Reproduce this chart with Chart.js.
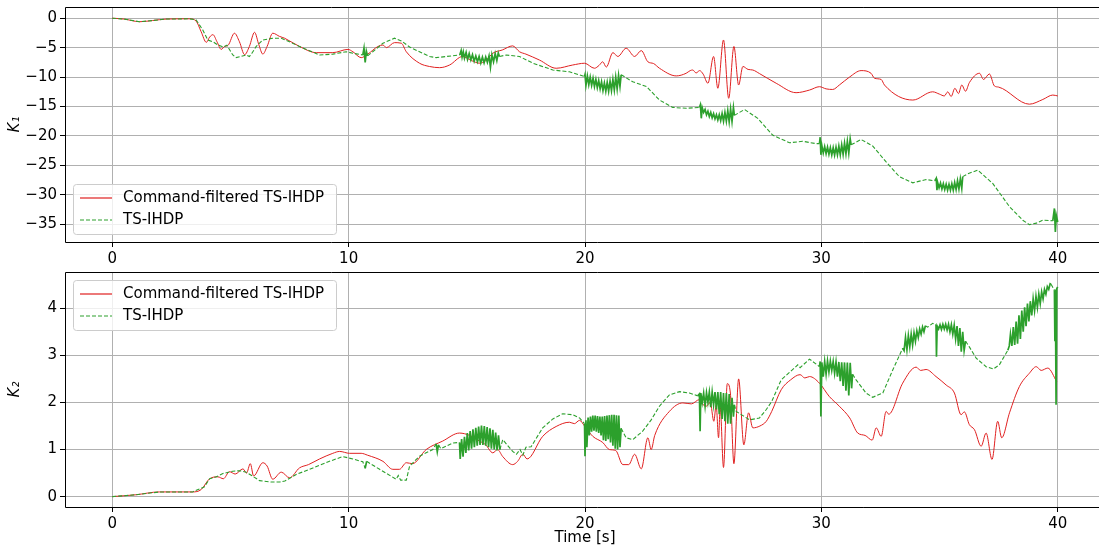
<!DOCTYPE html>
<html>
<head>
<meta charset="utf-8">
<title>K1 / K2</title>
<script src="https://cdn.jsdelivr.net/npm/chart.js@4.4.1/dist/chart.umd.min.js"></script>
<style>
  html,body{margin:0;padding:0;background:#fff;overflow:hidden;}
  #wrap{position:relative;width:1099px;height:550px;overflow:hidden;background:#fff;}
  canvas{position:absolute;left:0;}
</style>
</head>
<body>
<div id="wrap">
  <canvas id="k1" width="1130" height="265" style="top:0;width:1130px;height:265px"></canvas>
  <canvas id="k2" width="1130" height="285" style="top:265px;width:1130px;height:285px"></canvas>
</div>
<script>
// tick labels
const timeTicks = [0, 10, 20, 30, 40];
const k1Ticks = [0, -5, -10, -15, -20, -25, -30, -35];
const k2Ticks = [0, 1, 2, 3, 4];
const seriesNames = ['Command-filtered TS-IHDP', 'TS-IHDP'];

// K1, command-filtered (t, value)
const k1Cmd = [[0,0],[0.5,-0.15],[1.16,-0.6],[1.7,-0.4],[2.28,-0.15],[3.27,-0.1],[3.55,-0.5],[3.76,-2.3],[3.98,-4.1],[4.12,-3.2],[4.26,-2.8],[4.43,-4.0],[4.61,-5.3],[4.75,-4.8],[4.9,-4.6],[5.17,-2.55],[5.38,-4.0],[5.6,-6.2],[5.8,-4.8],[6.02,-2.4],[6.2,-4.5],[6.37,-6.1],[6.55,-4.8],[6.79,-2.55],[7.08,-3.1],[7.29,-3.4],[7.92,-4.8],[8.63,-5.85],[9.33,-5.85],[9.97,-5.3],[10.18,-5.7],[10.53,-6.7],[10.81,-6.1],[11.24,-4.8],[11.45,-4.55],[11.6,-5.0],[11.94,-4.15],[12.23,-4.25],[12.44,-5.7],[13.0,-7.65],[13.42,-8.2],[13.85,-8.4],[14.27,-7.95],[14.82,-6.5],[15.2,-7.2],[15.54,-7.65],[15.8,-7.2],[16.1,-5.95],[16.5,-5.4],[16.94,-4.7],[17.23,-5.7],[17.5,-6.1],[18.07,-7.1],[18.78,-8.5],[19.48,-7.95],[19.98,-7.65],[20.4,-8.5],[20.6,-8.0],[20.75,-7.4],[20.9,-8.3],[21.18,-5.85],[21.39,-6.5],[21.74,-5.1],[22.1,-6.5],[22.38,-5.5],[22.66,-7.4],[22.9,-7.7],[23.15,-8.5],[23.86,-9.8],[24.28,-9.35],[24.45,-8.9],[24.56,-8.8],[24.7,-9.3],[24.85,-8.9],[25.0,-9.5],[25.2,-11.05],[25.44,-6.5],[25.62,-11.9],[25.86,-3.7],[26.08,-13.6],[26.3,-4.8],[26.5,-11.35],[26.68,-8.2],[26.9,-8.7],[27.1,-8.8],[27.38,-9.4],[28.09,-11.05],[28.93,-12.65],[29.5,-12.2],[29.92,-11.63],[30.2,-12.0],[30.48,-12.1],[30.76,-11.35],[31.19,-10.0],[31.68,-8.9],[32.1,-9.35],[32.25,-10.2],[32.53,-10.4],[32.67,-11.35],[33.87,-13.9],[34.71,-12.5],[35.0,-12.9],[35.2,-13.2],[35.35,-12.5],[35.49,-13.3],[35.65,-11.9],[35.8,-12.8],[35.94,-11.35],[36.1,-12.4],[36.26,-10.95],[36.69,-9.35],[36.86,-10.4],[37.11,-9.47],[37.32,-11.5],[37.5,-11.7],[38.8,-14.6],[39.37,-13.8],[39.79,-13.05],[40.0,-13.2]];

// K1, plain TS-IHDP (the chattering stretches are read as top/bottom swings)
const k1Base = [[0,0],[0.5,-0.15],[1.16,-0.6],[1.7,-0.4],[2.28,-0.15],[3.27,-0.1],[3.55,-0.3],[3.83,-2.0],[4.04,-3.7],[4.26,-4.0],[4.47,-4.55],[4.7,-4.9],[4.85,-4.6],[5.1,-6.25],[5.24,-6.7],[5.67,-6.25],[5.8,-6.5],[5.9,-6.0],[6.09,-4.8],[6.37,-3.7],[6.79,-3.4],[7.15,-3.4],[7.5,-4.0],[7.92,-4.8],[8.77,-6.25],[9.33,-6.1],[9.9,-5.7],[10.18,-5.95],[10.6,-6.25],[10.65,-5.1],[10.7,-7.5],[10.75,-5.6],[10.8,-6.4],[11.02,-5.7],[11.45,-4.25],[11.94,-3.4],[12.23,-3.85],[12.58,-4.9],[13.42,-6.5],[13.7,-6.7],[14.7,-6.25],
  [14.76,-5.5],[14.8,-6.6],[14.85,-5.7],[14.9,-6.8],[14.97,-5.8],[15.03,-7.0],[15.1,-6.0],[15.17,-7.1],[15.24,-6.2],[15.31,-7.3],[15.38,-6.4],[15.45,-7.4],[15.52,-6.5],[15.59,-7.6],[15.66,-6.6],[15.73,-7.6],[15.8,-6.6],[15.87,-7.5],[15.94,-6.4],[16.0,-8.3],[16.06,-6.2],[16.13,-7.4],[16.2,-6.0],[16.27,-7.2],[16.33,-5.9],[16.38,-6.5],
  [16.67,-6.25],[17.23,-6.5],[17.8,-7.65],[18.64,-8.8],[19.34,-9.1],[19.98,-9.9],
  [20.0,-9.6],[20.04,-11.4],[20.1,-9.8],[20.16,-11.3],[20.22,-10.0],[20.28,-11.4],[20.34,-10.2],[20.4,-11.6],[20.46,-10.4],[20.52,-11.8],[20.58,-10.6],[20.64,-12.0],[20.7,-10.8],[20.76,-12.3],[20.82,-11.0],[20.88,-12.4],[20.94,-10.9],[21.0,-12.4],[21.06,-10.7],[21.12,-12.3],[21.18,-10.4],[21.24,-12.2],[21.3,-10.0],[21.36,-12.0],[21.42,-9.7],[21.48,-11.6],[21.53,-9.6],
  [22.02,-10.8],[22.6,-11.6],[23.15,-13.9],[23.71,-15.15],[24.28,-15.3],[24.84,-15.15],
  [24.88,-14.7],[24.92,-17.0],[24.96,-15.2],[25.02,-16.0],[25.08,-15.5],[25.14,-16.4],[25.2,-15.8],[25.26,-16.7],[25.32,-16.0],[25.38,-16.9],[25.44,-16.2],[25.5,-17.1],[25.56,-16.4],[25.62,-17.3],[25.68,-16.4],[25.74,-17.4],[25.8,-16.2],[25.86,-17.5],[25.92,-16.0],[25.98,-17.5],[26.04,-15.7],[26.1,-17.6],[26.16,-15.4],[26.22,-17.5],[26.28,-15.15],[26.32,-16.5],
  [26.75,-15.5],[27.31,-17.0],[27.94,-19.85],[28.65,-21.15],[29.21,-20.9],[29.77,-21.3],
  [29.92,-21.3],[29.95,-20.2],[29.98,-23.2],[30.02,-21.6],[30.08,-22.9],[30.14,-21.8],[30.2,-23.0],[30.26,-21.9],[30.32,-23.1],[30.38,-22.0],[30.44,-23.2],[30.5,-22.0],[30.56,-23.25],[30.62,-21.9],[30.68,-23.2],[30.74,-21.7],[30.8,-23.2],[30.86,-21.5],[30.92,-23.1],[30.98,-21.2],[31.04,-23.0],[31.1,-20.9],[31.16,-22.9],[31.22,-20.5],[31.26,-21.5],
  [31.68,-20.6],[32.17,-21.7],[32.74,-24.4],[33.3,-26.9],[33.87,-27.95],[34.43,-27.4],[34.8,-27.6],
  [34.86,-27.2],[34.89,-29.2],[34.92,-27.9],[34.98,-28.8],[35.04,-28.0],[35.1,-29.0],[35.16,-28.1],[35.22,-29.1],[35.28,-28.2],[35.34,-29.2],[35.4,-28.2],[35.46,-29.2],[35.52,-28.1],[35.58,-29.2],[35.64,-27.9],[35.7,-29.1],[35.76,-27.6],[35.82,-29.0],[35.88,-27.3],[35.94,-28.9],[35.98,-26.9],
  [36.2,-26.4],[36.62,-25.8],[37.25,-28.06],[37.96,-32.0],[38.52,-34.3],[38.8,-35.05],[39.1,-34.8],[39.37,-34.3],[39.79,-34.4],[39.86,-32.3],[39.9,-36.3],[39.94,-33.5],[40.0,-34.6]];

// K2, command-filtered
const k2Cmd = [[0,0],[1,0.04],[2.0,0.1],[2.85,0.1],[3.4,0.1],[3.76,0.15],[4.12,0.38],[4.47,0.42],[4.7,0.38],[4.96,0.53],[5.2,0.48],[5.53,0.59],[5.68,0.5],[5.84,0.7],[5.98,0.44],[6.37,0.72],[6.55,0.65],[6.79,0.37],[7.15,0.52],[7.5,0.4],[7.92,0.61],[8.3,0.68],[8.77,0.8],[9.33,0.92],[9.62,0.96],[10.04,0.92],[10.53,0.92],[10.8,0.88],[11.45,0.75],[11.87,0.58],[12.15,0.58],[12.44,0.72],[12.7,0.7],[13.28,1.0],[13.98,1.18],[14.69,1.35],[15.12,1.3],[15.54,1.18],[15.8,1.1],[16.1,0.93],[16.3,1.0],[16.52,0.85],[16.94,0.68],[17.15,0.75],[17.37,0.9],[17.55,0.8],[18.21,1.28],[18.78,1.49],[19.34,1.58],[19.55,1.55],[19.77,1.62],[19.98,1.5],[20.33,1.28],[20.75,1.15],[21.03,1.0],[21.3,0.98],[21.6,0.68],[21.85,0.68],[22.1,0.9],[22.38,0.59],[22.66,1.25],[22.8,1.0],[22.95,1.3],[23.57,1.81],[24.14,1.99],[24.5,1.97],[24.84,2.06],[25.0,1.95],[25.13,1.92],[25.3,2.0],[25.45,1.6],[25.55,1.95],[25.65,1.25],[25.72,1.9],[25.86,0.62],[26.02,2.4],[26.15,2.2],[26.3,0.7],[26.5,2.5],[26.72,1.1],[26.92,1.78],[27.1,1.46],[27.4,1.5],[27.67,1.6],[27.9,1.81],[28.3,2.27],[28.7,2.48],[29.1,2.59],[29.3,2.52],[29.5,2.55],[29.92,2.41],[30.33,2.13],[30.76,1.92],[31.2,1.67],[31.54,1.35],[31.85,1.3],[32.15,1.2],[32.32,1.46],[32.53,1.28],[32.74,1.81],[32.85,1.75],[33.44,2.41],[34.01,2.75],[34.2,2.68],[34.43,2.7],[34.85,2.55],[35.28,2.37],[35.63,2.2],[35.91,1.74],[36.05,1.8],[36.26,1.53],[36.48,1.42],[36.76,1.07],[36.97,1.35],[37.22,0.79],[37.46,1.6],[37.63,1.25],[37.96,1.78],[38.38,2.34],[38.8,2.62],[39.09,2.76],[39.3,2.68],[39.58,2.73],[39.96,2.44]];

// K2, plain TS-IHDP
const k2Base = [[0,0],[1,0.04],[2.0,0.1],[2.85,0.1],[3.4,0.1],[3.9,0.21],[4.12,0.38],[4.4,0.42],[4.68,0.49],[5.1,0.54],[5.4,0.55],[5.67,0.52],[6.23,0.34],[6.7,0.31],[7.08,0.31],[7.3,0.33],[7.78,0.47],[8.49,0.61],[9.19,0.75],[9.75,0.85],[10.18,0.8],[10.6,0.74],[10.7,0.6],[10.76,0.75],[11.31,0.58],[12.01,0.37],[12.1,0.45],[12.2,0.35],[12.44,0.35],[12.58,0.65],[13.0,0.86],[13.56,1.0],[13.7,1.12],[13.75,0.95],[13.8,1.1],[13.9,1.02],[14.41,1.14],[14.69,1.15],
  [14.72,0.8],[14.78,1.22],[14.84,0.85],[14.9,1.27],[14.96,0.93],[15.02,1.35],[15.08,0.98],[15.14,1.39],[15.2,1.02],[15.26,1.43],[15.32,1.05],[15.38,1.46],[15.44,1.08],[15.5,1.49],[15.56,1.1],[15.62,1.51],[15.68,1.1],[15.74,1.5],[15.8,1.08],[15.86,1.48],[15.92,1.05],[15.98,1.45],[16.04,1.02],[16.1,1.42],[16.16,1.0],[16.22,1.36],[16.28,0.98],[16.34,1.3],[16.4,1.0],
  [16.52,1.21],[16.94,0.96],[17.1,0.9],[17.25,1.0],[17.37,0.88],[17.5,1.05],[17.72,1.06],[18.21,1.46],[18.64,1.65],[19.06,1.76],[19.48,1.74],[19.77,1.67],[19.98,1.55],
  [20.0,0.86],[20.04,1.62],[20.08,1.05],[20.13,1.68],[20.18,1.3],[20.23,1.7],[20.28,1.38],[20.33,1.72],[20.38,1.4],[20.43,1.72],[20.48,1.38],[20.53,1.71],[20.58,1.35],[20.63,1.7],[20.68,1.3],[20.73,1.7],[20.78,1.2],[20.83,1.71],[20.88,1.18],[20.93,1.72],[20.98,1.22],[21.03,1.73],[21.08,1.15],[21.13,1.74],[21.18,1.08],[21.23,1.74],[21.28,1.02],[21.33,1.73],[21.38,1.0],[21.43,1.72],[21.48,1.05],[21.53,1.45],
  [21.74,1.25],[22.02,1.21],[22.44,1.39],[22.8,1.63],[23.15,1.92],[23.57,2.16],[24.0,2.23],[24.42,2.2],[24.77,2.14],
  [24.84,2.18],[24.87,1.39],[24.9,2.2],[24.96,2.0],[25.02,2.2],[25.08,1.92],[25.14,2.21],[25.2,2.0],[25.26,2.22],[25.32,1.9],[25.38,2.22],[25.44,1.95],[25.5,2.22],[25.56,1.85],[25.62,2.22],[25.68,1.75],[25.74,2.22],[25.8,1.65],[25.86,2.2],[25.92,1.6],[25.98,2.2],[26.04,1.55],[26.1,2.18],[26.16,1.55],[26.22,2.1],[26.28,1.7],[26.32,1.95],
  [26.4,1.81],[26.68,1.72],[26.96,1.63],[27.38,1.67],[27.67,1.85],[27.9,2.02],[28.3,2.48],[28.7,2.66],[28.9,2.75],[29.0,2.8],[29.1,2.74],[29.5,2.92],[29.92,2.76],
  [29.95,2.87],[29.98,1.7],[30.02,2.85],[30.08,2.55],[30.14,2.87],[30.2,2.6],[30.26,2.88],[30.32,2.65],[30.38,2.88],[30.44,2.68],[30.5,2.87],[30.56,2.62],[30.62,2.86],[30.68,2.55],[30.74,2.86],[30.8,2.45],[30.86,2.85],[30.92,2.35],[30.98,2.85],[31.04,2.25],[31.1,2.85],[31.16,2.15],[31.22,2.84],[31.28,2.3],[31.32,2.6],
  [31.47,2.48],[31.89,2.2],[32.17,2.11],[32.6,2.2],[33.02,2.69],[33.44,3.15],
  [33.5,3.1],[33.56,3.38],[33.62,3.12],[33.68,3.42],[33.74,3.18],[33.8,3.45],[33.86,3.22],[33.92,3.48],[33.98,3.3],[34.04,3.52],[34.1,3.38],[34.16,3.56],[34.22,3.45],[34.28,3.6],[34.34,3.5],[34.4,3.63],[34.5,3.6],
  [34.71,3.68],[34.85,3.65],[34.87,2.97],[34.9,3.62],
  [34.96,3.56],[35.02,3.65],[35.08,3.55],[35.14,3.66],[35.2,3.56],[35.26,3.66],[35.32,3.54],[35.38,3.66],[35.44,3.5],[35.5,3.65],[35.56,3.45],[35.62,3.64],[35.68,3.35],[35.74,3.62],[35.8,3.2],[35.86,3.58],[35.92,3.08],[35.98,3.5],[36.04,3.1],[36.1,3.3],
  [36.26,3.18],[36.55,2.94],[36.97,2.76],[37.28,2.71],[37.53,2.8],[37.89,3.11],
  [37.95,3.2],[38.0,3.45],[38.06,3.2],[38.12,3.6],[38.18,3.22],[38.24,3.72],[38.3,3.25],[38.36,3.85],[38.42,3.35],[38.48,3.95],[38.54,3.5],[38.6,4.02],[38.66,3.62],[38.72,4.1],[38.78,3.72],[38.84,4.15],[38.9,3.85],[38.96,4.2],[39.02,3.95],[39.08,4.25],[39.14,4.02],[39.2,4.3],[39.26,4.1],[39.32,4.35],[39.38,4.2],[39.44,4.4],[39.5,4.3],[39.56,4.46],[39.62,4.4],[39.68,4.52],
  [39.72,4.51],[39.86,4.38],[39.88,3.3],[39.9,4.4],[39.93,1.95],[39.96,4.42],[40.0,4.45]];

const RED = '#e02020';
const GREEN = '#2ca02c';
const FONT = 'DejaVu Sans';

Chart.defaults.font.family = FONT;
Chart.defaults.font.size = 15;
Chart.defaults.color = '#000';

function toXY(rows){ return rows.map(r => ({ x:r[0], y:r[1] })); }
function minusFmt(v){ return v < 0 ? '\u2212' + Math.abs(v) : String(v); }

// chattering bits are short steps: draw those solid and a bit heavier so they fill in
function isChatter(ctx){ return (ctx.p1.parsed.x - ctx.p0.parsed.x) < 0.075; }
function greenDash(ctx){ return isChatter(ctx) ? [] : [4, 2]; }
function greenWidth(ctx){ return isChatter(ctx) ? 1.7 : 1.1; }

// spines: left, top, bottom (the right one sits past the window edge)
const framePlugin = {
  id:'frame',
  afterDraw(chart){
    const a = chart.chartArea, ctx = chart.ctx;
    const l = Math.round(a.left)+0.5, t = Math.round(a.top)+0.5, b = Math.round(a.bottom)+0.5;
    ctx.save();
    ctx.strokeStyle = '#000';
    ctx.lineWidth = 1;
    ctx.beginPath();
    ctx.moveTo(l, b); ctx.lineTo(l, t); ctx.lineTo(chart.width, t);
    ctx.moveTo(l, b); ctx.lineTo(chart.width, b);
    ctx.stroke();
    ctx.restore();
  }
};

// legend box drawn inside the axes
const boxLegend = {
  id:'boxLegend',
  afterDraw(chart, args, opts){
    const ctx = chart.ctx;
    const x0 = 73.5, w = 263, h = 50, y0 = opts.top + 0.5, r = 3;
    ctx.save();
    ctx.beginPath();
    ctx.moveTo(x0+r, y0);
    ctx.arcTo(x0+w, y0, x0+w, y0+h, r);
    ctx.arcTo(x0+w, y0+h, x0, y0+h, r);
    ctx.arcTo(x0, y0+h, x0, y0, r);
    ctx.arcTo(x0, y0, x0+w, y0, r);
    ctx.closePath();
    ctx.fillStyle = 'rgba(255,255,255,0.8)';
    ctx.fill();
    ctx.strokeStyle = '#cccccc';
    ctx.lineWidth = 1;
    ctx.stroke();
    const rows = [opts.top + 14, opts.top + 36];
    const styles = [{ c:RED, dash:[] }, { c:GREEN, dash:[4,2] }];
    rows.forEach((y, i) => {
      ctx.beginPath();
      ctx.setLineDash(styles[i].dash);
      ctx.strokeStyle = styles[i].c;
      ctx.lineWidth = 1.2;
      ctx.moveTo(80, y); ctx.lineTo(112, y);
      ctx.stroke();
      ctx.setLineDash([]);
      ctx.fillStyle = '#000';
      ctx.font = '15px "' + FONT + '"';
      ctx.textBaseline = 'middle';
      ctx.fillText(seriesNames[i], 123, y);
    });
    ctx.restore();
  }
};

function makeChart(id, cmd, base, yTicks, yMin, yMax, yLabel, legendTop, xAxisH, showTime){
  return new Chart(document.getElementById(id), {
    type:'line',
    data:{
      datasets:[
        { label:seriesNames[0], data:toXY(cmd), borderColor:RED, borderWidth:1, pointRadius:0, cubicInterpolationMode:'monotone', order:1 },
        { label:seriesNames[1], data:toXY(base), borderColor:GREEN, borderWidth:1.1, borderDash:[4,2], segment:{ borderDash:greenDash, borderWidth:greenWidth }, pointRadius:0, tension:0, order:0 }
      ]
    },
    options:{
      responsive:false,
      animation:false,
      devicePixelRatio:1,
      layout:{ padding:{ top:7, right:25, left:0, bottom:0 } },
      plugins:{ legend:{ display:false }, tooltip:{ enabled:false }, boxLegend:{ top:legendTop } },
      scales:{
        x:{
          type:'linear', min:-2, max:42,
          afterBuildTicks: s => { s.ticks = timeTicks.map(v => ({ value:v })); },
          afterFit: s => { s.height = xAxisH; s.paddingLeft = 0; s.paddingRight = 0; },
          grid:{ color:'#b0b0b0', lineWidth:1, tickColor:'#000', tickLength:5, tickWidth:1 },
          border:{ display:false },
          ticks:{ color:'#000', padding:3, maxRotation:0, callback:minusFmt },
          title:{ display:showTime, text:'Time [s]', color:'#000', font:{ size:15 }, padding:{ top:0, bottom:3 } }
        },
        y:{
          type:'linear', min:yMin, max:yMax,
          afterBuildTicks: s => { s.ticks = yTicks.map(v => ({ value:v })); },
          afterFit: s => { s.width = 65; s.paddingTop = 0; s.paddingBottom = 0; },
          grid:{ color:'#b0b0b0', lineWidth:1, tickColor:'#000', tickLength:5, tickWidth:1 },
          border:{ display:false },
          ticks:{ color:'#000', padding:3, callback:minusFmt },
          title:{ display:true, text:yLabel, color:'#000', font:{ size:15, style:'italic' }, padding:{ top:6, bottom:0 } }
        }
      }
    },
    plugins:[framePlugin, boxLegend]
  });
}

makeChart('k1', k1Cmd, k1Base, k1Ticks, -38, 1.9, 'K\u2081', 184, 23, false);
makeChart('k2', k2Cmd, k2Base, k2Ticks, -0.22, 4.77, 'K\u2082', 15, 43, true);
</script>
</body>
</html>
